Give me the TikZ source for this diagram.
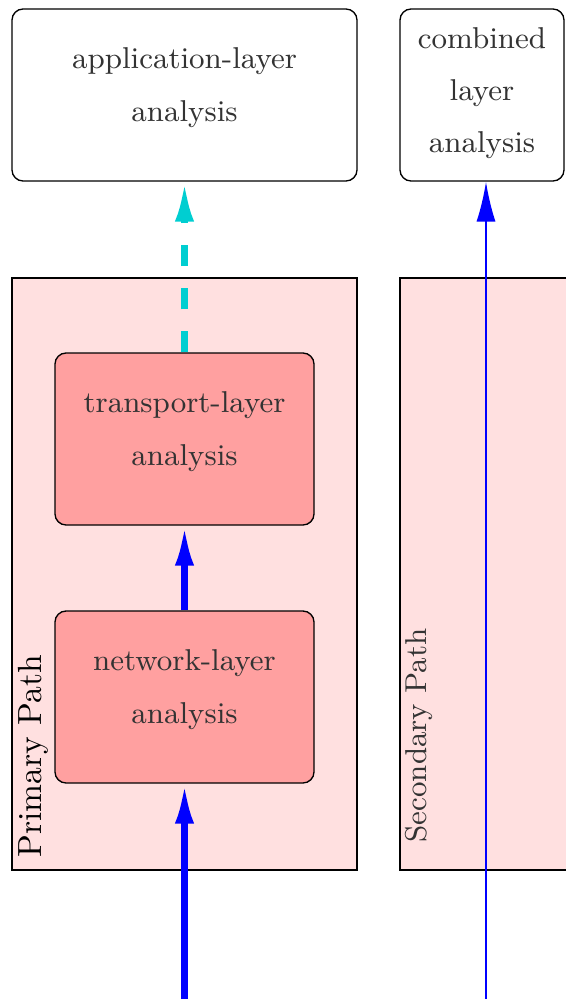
\documentclass[tikz,border=0pt]{standalone}
\usetikzlibrary{arrows.meta}

\definecolor{pathbg}{RGB}{255,224,224}
\definecolor{stagefill}{RGB}{255,160,160}
\definecolor{flowblue}{RGB}{0,0,255}
\definecolor{flowcyan}{RGB}{0,206,209}
\definecolor{labeltext}{gray}{0.2}
\newcommand\pxu{0.2985pt}
% depth strut for the last line of a stage label, so the lines sit centred
\newcommand\lowstrut[1]{\rule[-#1]{0pt}{#1}}

\begin{document}
\begin{tikzpicture}[x=\pxu, y=-\pxu,
  every node/.style={inner sep=0pt},
  stagebox/.style={draw=black, line width=0.4pt, rounded corners=3.3pt,
    align=center, text=labeltext, font=\fontsize{9}{15.6}\selectfont,
    minimum height={172*\pxu}},
  pathbox/.style={draw=black, line width=0.4pt, fill=pathbg},
  flowhead/.style={-{Latex[length=11.9pt, width=5.7pt]}},
  mainflow/.style={flowhead, draw=flowblue, line width=1.8pt},
  sideflow/.style={flowhead, draw=flowblue, line width=0.6pt},
  appflow/.style={flowhead, draw=flowcyan, line width=1.8pt,
    dash pattern=on 6.3pt off 6.55pt},
]
\useasboundingbox (0,0) rectangle (565,999);

% path regions
\node[pathbox, minimum width={345*\pxu}, minimum height={592*\pxu}] (prim) at (184.5,574) {};
\node[pathbox, minimum width={345*\pxu}, minimum height={592*\pxu}] (sec) at (572.5,574) {};

% analysis stages
\node[stagebox, fill=white, minimum width={345*\pxu}] (app) at (184.5,95)
  {application-layer\\analysis\lowstrut{6.25pt}};
\node[stagebox, fill=white, minimum width={164*\pxu}] (comb) at (482,95)
  {combined\\layer\\analysis\lowstrut{2.85pt}};
\node[stagebox, fill=stagefill, minimum width={259*\pxu}] (trans) at (184.5,439)
  {transport-layer\\analysis\lowstrut{6.25pt}};
\node[stagebox, fill=stagefill, minimum width={259*\pxu}] (net) at (184.5,697)
  {network-layer\\analysis\lowstrut{6.25pt}};

% region labels
\node[rotate=90, anchor=north west, font=\fontsize{10}{12}\selectfont] (primlabel)
  at (18,858) {Primary Path};
\node[rotate=90, anchor=north west, text=labeltext, font=\fontsize{9}{11}\selectfont] (seclabel)
  at (405,843) {Secondary Path};

% packet flows
\coordinate (inmain) at (184.5,999);
\coordinate (inside) at (486,999);
\draw[mainflow] (inmain) -- (net.south);
\draw[mainflow] (net.north) -- (trans.south);
\draw[appflow] (trans.north) -- (app.south);
\draw[sideflow] (inside) -- (inside |- comb.south);
\end{tikzpicture}
\end{document}
